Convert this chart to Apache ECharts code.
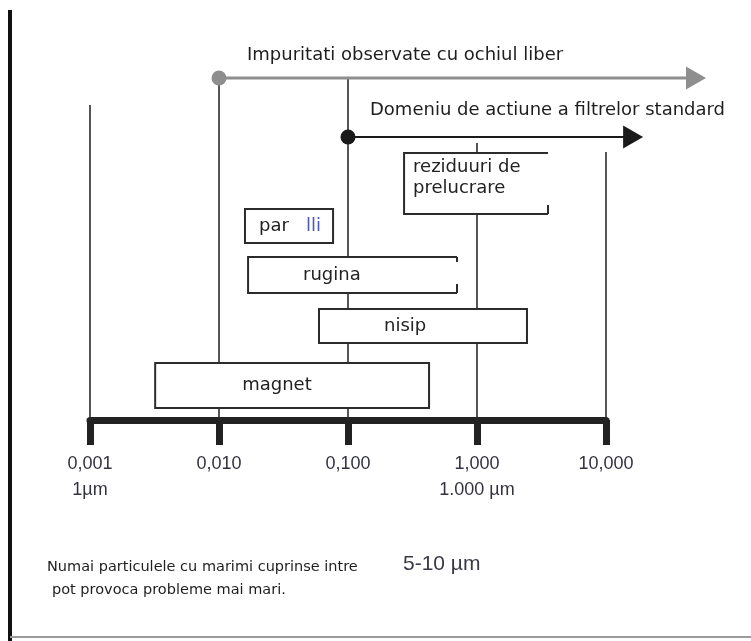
<!DOCTYPE html>
<html>
<head>
<meta charset="utf-8">
<script src="https://cdn.jsdelivr.net/npm/echarts@6/dist/echarts.min.js"></script>
<style>
  html, body { margin: 0; padding: 0; background: #fff; }
  #chart { width: 751px; height: 641px; }
</style>
</head>
<body>
<div id="chart"></div>
<script>
// Particle size scale, in mm
const tickValues = [0.001, 0.01, 0.1, 1, 10];
const tickLabels = ['0,001', '0,010', '0,100', '1,000', '10,000'];
const tickSubLabels = ['1µm', '', '', '1.000 µm', ''];

// Impurity groups and their size ranges (mm)
const boxNames = ['reziduuri de\nprelucrare', 'par   lli', 'rugina', 'nisip', 'magnet'];
const boxMin = [0.272, 0.0159, 0.0168, 0.0596, 0.0032];
const boxMax = [3.55, 0.0766, 0.70, 2.44, 0.425];

// Open-ended ranges (start value, arrow tip value), in mm
const rangeNames = ['Impuritati observate cu ochiul liber', 'Domeniu de actiune a filtrelor standard'];
const rangeStart = [0.01, 0.1];
const rangeEnd = [59.6, 19.4];

// Vertical layout, in row units of the hidden y axis (0 = scale bar)
const layout = {
  guideTop: [78.75, 85.5, 85.5, 69.25, 67],
  boxTop: [66.75, 52.75, 40.75, 27.75, 14.25],
  boxBottom: [51.5, 44.25, 31.75, 19.25, 3],
  boxLabelOffset: [9, 14, 55, 65, 87],
  boxOpenRight: ['bottom', null, 'both', null, null],
  rangeRow: [85.5, 70.75]
};

const BOX_FONT = '18px "DejaVu Sans", sans-serif';
const NOTE_FONT = '14.5px "DejaVu Sans", sans-serif';
const INK = '#2b2b2b';

const chart = echarts.init(document.getElementById('chart'), null, { renderer: 'canvas' });

const guideSeries = {
  type: 'custom',
  z: 1,
  clip: false,
  silent: true,
  data: tickValues.map((v, i) => [v, layout.guideTop[i]]),
  encode: { x: 0, y: 1 },
  renderItem(params, api) {
    const top = api.coord([api.value(0), api.value(1)]);
    const bottom = api.coord([api.value(0), 0]);
    return {
      type: 'line',
      shape: { x1: top[0], y1: top[1], x2: bottom[0], y2: bottom[1] },
      style: { stroke: INK, lineWidth: 1.6 }
    };
  }
};

const boxSeries = {
  type: 'custom',
  z: 3,
  clip: false,
  silent: true,
  data: boxNames.map((n, i) => [boxMin[i], boxMax[i], layout.boxTop[i], layout.boxBottom[i]]),
  encode: { x: [0, 1], y: [2, 3] },
  renderItem(params, api) {
    const i = params.dataIndex;
    const a = api.coord([api.value(0), api.value(2)]);
    const b = api.coord([api.value(1), api.value(3)]);
    const x0 = a[0], y0 = a[1], x1 = b[0], y1 = b[1];
    const stroke = { stroke: INK, lineWidth: 2, fill: null };
    const children = [{
      type: 'rect',
      shape: { x: x0, y: y0, width: x1 - x0, height: y1 - y0 },
      style: { fill: '#fff' }
    }];
    const open = layout.boxOpenRight[i];
    if (!open) {
      children.push({ type: 'rect', shape: { x: x0, y: y0, width: x1 - x0, height: y1 - y0 }, style: stroke });
    } else {
      children.push({ type: 'polyline', shape: { points: [[x1, y0], [x0, y0], [x0, y1], [x1, y1]] }, style: stroke });
      children.push({ type: 'line', shape: { x1: x1, y1: y1, x2: x1, y2: y1 - 9 }, style: stroke });
      if (open === 'both') {
        children.push({ type: 'line', shape: { x1: x1, y1: y0, x2: x1, y2: y0 + 5 }, style: stroke });
      }
    }
    const name = boxNames[i];
    const tx = x0 + layout.boxLabelOffset[i];
    if (name.indexOf('\n') >= 0) {
      children.push({
        type: 'text',
        style: { text: name, x: tx, y: y0 + 4, font: BOX_FONT, fill: '#222', verticalAlign: 'top', lineHeight: 21 }
      });
    } else if (name.indexOf('lli') >= 0) {
      children.push({
        type: 'text',
        style: {
          text: '{a|par}   {b|lli}', x: tx, y: (y0 + y1) / 2, verticalAlign: 'middle',
          font: BOX_FONT, fill: '#222',
          rich: {
            a: { font: BOX_FONT, fill: '#222' },
            b: { font: BOX_FONT, fill: '#4a5cb8' }
          }
        }
      });
    } else {
      children.push({
        type: 'text',
        style: { text: name, x: tx, y: (y0 + y1) / 2, font: BOX_FONT, fill: '#222', verticalAlign: 'middle' }
      });
    }
    return { type: 'group', children };
  }
};

const rangeColors = ['#8e8e8e', '#1a1a1a'];
const rangeWidths = [3, 2];
const rangeSeries = {
  type: 'custom',
  z: 4,
  clip: false,
  silent: true,
  data: rangeNames.map((n, i) => [rangeStart[i], rangeEnd[i], layout.rangeRow[i]]),
  encode: { x: [0, 1], y: 2 },
  renderItem(params, api) {
    const i = params.dataIndex;
    const s = api.coord([api.value(0), api.value(2)]);
    const t = api.coord([api.value(1), api.value(2)]);
    const hl = 20, hh = 11.5;
    const c = rangeColors[i];
    return {
      type: 'group',
      children: [
        { type: 'line', shape: { x1: s[0], y1: s[1], x2: t[0] - hl + 1, y2: s[1] }, style: { stroke: c, lineWidth: rangeWidths[i] } },
        { type: 'polygon', shape: { points: [[t[0] - hl, s[1] - hh], [t[0], s[1]], [t[0] - hl, s[1] + hh]] }, style: { fill: c } },
        { type: 'circle', shape: { cx: s[0], cy: s[1], r: 7.5 }, style: { fill: c } }
      ]
    };
  }
};

const option = {
  backgroundColor: '#fff',
  animation: false,
  grid: { left: 90, right: 145, top: 20, bottom: 221 },
  xAxis: {
    type: 'log',
    logBase: 10,
    min: tickValues[0],
    max: tickValues[tickValues.length - 1],
    splitNumber: 4,
    axisLine: { show: true, lineStyle: { color: '#222', width: 7 } },
    axisTick: { show: true, length: 25, lineStyle: { color: '#222', width: 7 } },
    splitLine: { show: false },
    axisLabel: {
      margin: 31,
      verticalAlign: 'top',
      formatter(value) {
        let idx = 0, best = Infinity;
        tickValues.forEach((t, i) => {
          const d = Math.abs(Math.log10(t) - Math.log10(value));
          if (d < best) { best = d; idx = i; }
        });
        const sub = tickSubLabels[idx];
        return '{v|' + tickLabels[idx] + '}' + (sub ? '\n{s|' + sub + '}' : '');
      },
      rich: {
        v: { fontFamily: '"Liberation Sans", Arial, sans-serif', fontSize: 18, color: '#333340', lineHeight: 26 },
        s: { fontFamily: '"Liberation Sans", Arial, sans-serif', fontSize: 18, color: '#333340', lineHeight: 26 }
      }
    }
  },
  yAxis: { type: 'value', min: 0, max: 100, show: false },
  series: [guideSeries, boxSeries, rangeSeries],
  graphic: [
    { type: 'rect', shape: { x: 8, y: 10, width: 4, height: 631 }, style: { fill: '#111' }, silent: true },
    { type: 'line', shape: { x1: 10, y1: 637, x2: 751, y2: 637 }, style: { stroke: '#9a9a9a', lineWidth: 2 }, silent: true },
    { type: 'text', style: { text: rangeNames[0], x: 247, y: 55, font: '18px "DejaVu Sans", sans-serif', fill: '#1e1e1e', verticalAlign: 'middle' } },
    { type: 'text', style: { text: rangeNames[1], x: 370, y: 110, font: '18px "DejaVu Sans", sans-serif', fill: '#1e1e1e', verticalAlign: 'middle' } },
    { type: 'text', style: { text: 'Numai particulele cu marimi cuprinse intre', x: 47, y: 567, font: NOTE_FONT, fill: '#1e1e1e', verticalAlign: 'middle' } },
    { type: 'text', style: { text: '5-10 µm', x: 403, y: 564, font: '21px "Liberation Sans", Arial, sans-serif', fill: '#3a3845', verticalAlign: 'middle' } },
    { type: 'text', style: { text: 'pot provoca probleme mai mari.', x: 52, y: 590, font: NOTE_FONT, fill: '#1e1e1e', verticalAlign: 'middle' } }
  ]
};

chart.setOption(option);
</script>
</body>
</html>
